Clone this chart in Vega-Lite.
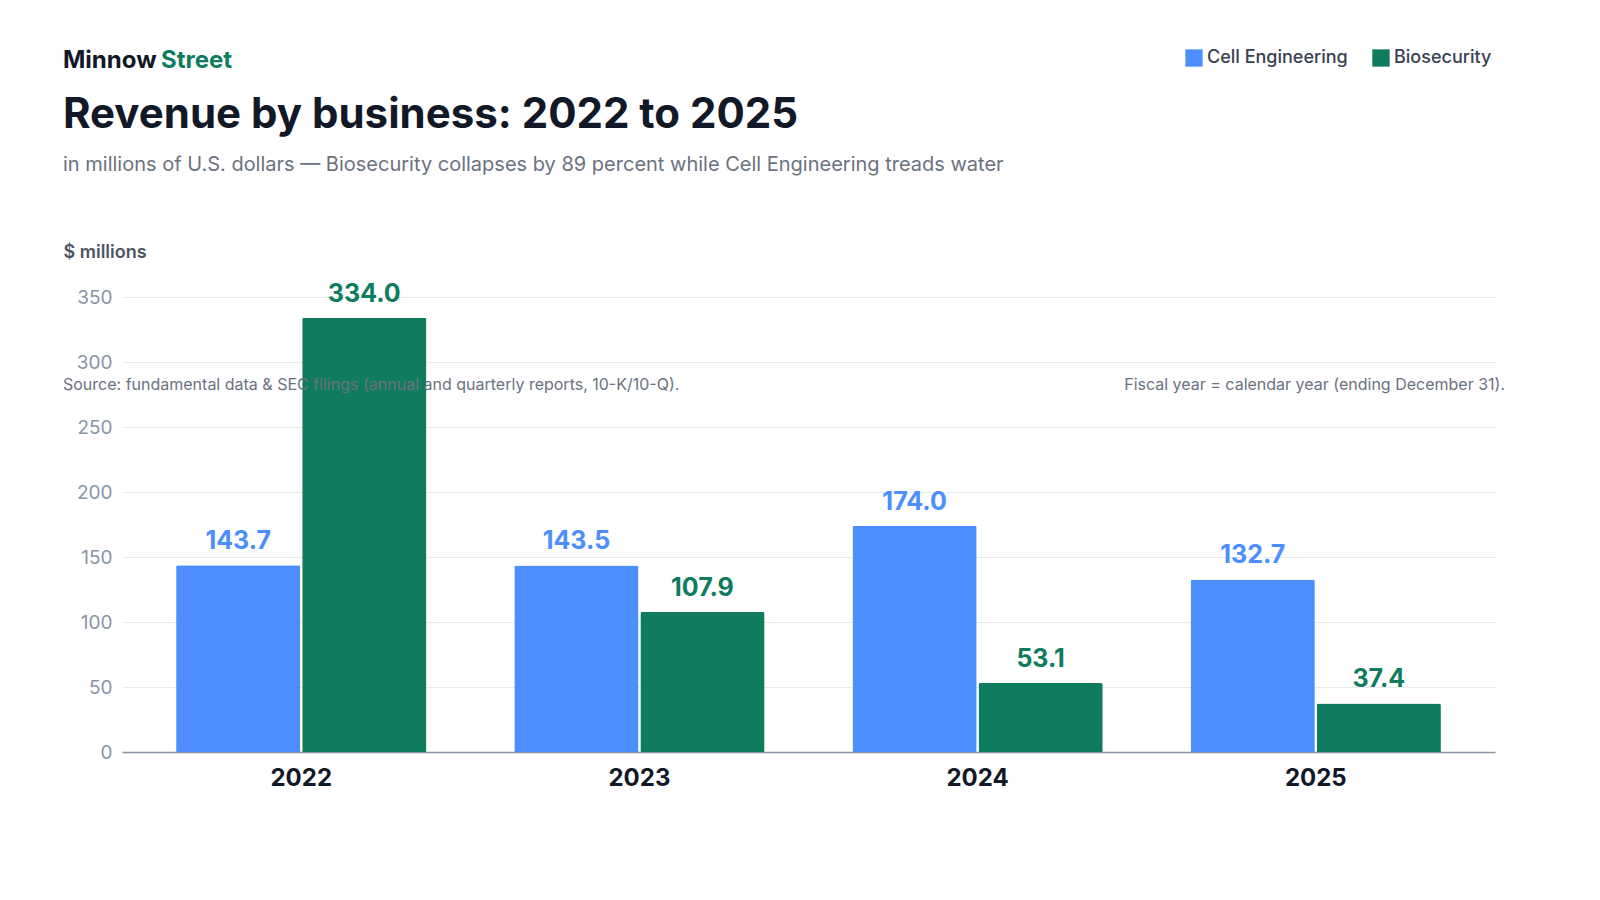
{
  "$schema": "https://vega.github.io/schema/vega-lite/v6.json",
  "autosize": "none",
  "width": 1373,
  "height": 455,
  "padding": {"left": 122, "top": 297, "right": 105, "bottom": 148},
  "background": "white",
  "config": {"font": "Inter", "view": {"stroke": null}},
  "datasets": {
    "rev": [
      {"year": "2022", "series": "Cell Engineering", "v": 143.7},
      {"year": "2022", "series": "Biosecurity", "v": 334.0},
      {"year": "2023", "series": "Cell Engineering", "v": 143.5},
      {"year": "2023", "series": "Biosecurity", "v": 107.9},
      {"year": "2024", "series": "Cell Engineering", "v": 174.0},
      {"year": "2024", "series": "Biosecurity", "v": 53.1},
      {"year": "2025", "series": "Cell Engineering", "v": 132.7},
      {"year": "2025", "series": "Biosecurity", "v": 37.4}
    ]
  },
  "layer": [
    {
      "data": {"name": "rev"},
      "encoding": {
        "x": {"field": "year", "type": "nominal", "scale": {"paddingInner": 0.26, "paddingOuter": 0.16},
          "axis": {"title": null, "labelAngle": 0, "labelFontSize": 24, "labelFontWeight": "bold", "labelColor": "#111827", "labelPadding": 14, "ticks": false, "domainColor": "#8a94a6", "domainWidth": 1.5}},
        "xOffset": {"field": "series", "type": "nominal", "sort": ["Cell Engineering", "Biosecurity"], "scale": {"paddingInner": 0.015}},
        "y": {"field": "v", "type": "quantitative", "scale": {"domain": [0, 350]},
          "axis": {"values": [0, 50, 100, 150, 200, 250, 300, 350], "title": "$ millions", "titleAngle": 0, "titleAlign": "left", "titleBaseline": "middle", "titleX": -59, "titleY": -45, "titleFontSize": 18, "titleFontWeight": 600, "titleColor": "#4b5563", "labelFontSize": 19, "labelColor": "#8a94a6", "labelPadding": 10, "ticks": false, "domain": false, "gridColor": "#e8eaee"}},
        "color": {"field": "series", "type": "nominal", "sort": ["Cell Engineering", "Biosecurity"],
          "scale": {"range": ["#4c8dff", "#0f7b5f"]},
          "legend": {"title": null, "orient": "none", "legendX": 1063, "legendY": -248, "direction": "horizontal", "symbolType": "square", "symbolSize": 300, "labelFontSize": 18, "labelFontWeight": 500, "labelColor": "#374151", "columnPadding": 24, "symbolStrokeWidth": 0}}
      },
      "layer": [
        {"mark": {"type": "bar", "cornerRadiusTopLeft": 2, "cornerRadiusTopRight": 2}},
        {"mark": {"type": "text", "dy": -24, "fontSize": 25, "fontWeight": "bold"},
          "encoding": {"text": {"field": "v", "type": "quantitative", "format": ".1f"}}}
      ]
    },
    {"data": {"values": [{"t": "Minnow"}]}, "mark": {"type": "text", "align": "left", "baseline": "middle", "fontSize": 24, "fontWeight": "bold", "color": "#111827", "x": -59, "y": -236},
      "encoding": {"text": {"field": "t"}}},
    {"data": {"values": [{"t": "Street"}]}, "mark": {"type": "text", "align": "left", "baseline": "middle", "fontSize": 24, "fontWeight": "bold", "color": "#0f7b5f", "x": 39, "y": -236},
      "encoding": {"text": {"field": "t"}}},
    {"data": {"values": [{"t": "Revenue by business: 2022 to 2025"}]}, "mark": {"type": "text", "align": "left", "baseline": "middle", "fontSize": 42, "fontWeight": "bold", "color": "#111827", "x": -59, "y": -182},
      "encoding": {"text": {"field": "t"}}},
    {"data": {"values": [{"t": "in millions of U.S. dollars — Biosecurity collapses by 89 percent while Cell Engineering treads water"}]}, "mark": {"type": "text", "align": "left", "baseline": "middle", "fontSize": 20, "color": "#6b7280", "x": -59, "y": -132},
      "encoding": {"text": {"field": "t"}}},
    {"data": {"values": [{"t": "Source: fundamental data & SEC filings (annual and quarterly reports, 10-K/10-Q)."}]}, "mark": {"type": "text", "align": "left", "baseline": "middle", "fontSize": 16, "color": "#6b7280", "x": -59, "y": 88},
      "encoding": {"text": {"field": "t"}}},
    {"data": {"values": [{"t": "Fiscal year = calendar year (ending December 31)."}]}, "mark": {"type": "text", "align": "right", "baseline": "middle", "fontSize": 16, "color": "#6b7280", "x": 1383, "y": 88},
      "encoding": {"text": {"field": "t"}}}
  ]
}
